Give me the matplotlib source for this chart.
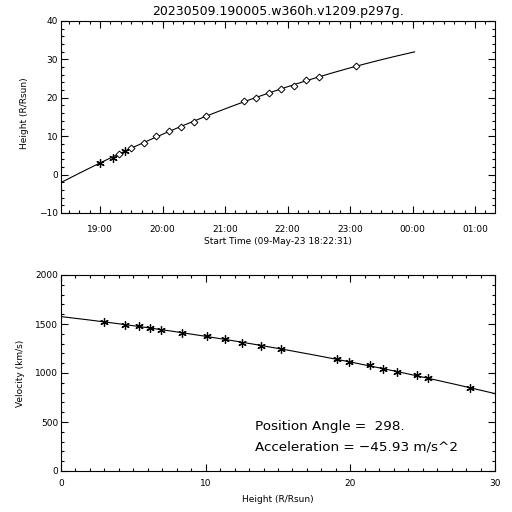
import numpy as np
import matplotlib
matplotlib.use("Agg")
import matplotlib.pyplot as plt
from matplotlib.ticker import FixedLocator, MultipleLocator, FuncFormatter

plt.rcParams['font.family'] = ['DejaVu Sans']

title = "20230509.190005.w360h.v1209.p297g."
start_time = "18:22:31"
start_label = "Start Time (09-May-23 18:22:31)"

# C2 (asterisks) and C3 (diamonds) measurements
c2_times = ['19:00', '19:12', '19:24']
c2_heights = [2.95, 4.45, 6.16]
c3_times = ['19:18', '19:30', '19:42', '19:54', '20:06', '20:18', '20:30', '20:42',
            '21:18', '21:30', '21:42', '21:54', '22:06', '22:18', '22:30', '23:06']
c3_heights = [5.42, 6.88, 8.35, 10.06, 11.35, 12.5, 13.8, 15.2,
              19.06, 19.94, 21.35, 22.27, 23.2, 24.6, 25.4, 28.3]

# velocity vs height
vel_heights = [2.95, 4.45, 5.42, 6.16, 6.88, 8.35, 10.06, 11.35, 12.5, 13.8, 15.2,
               19.06, 19.94, 21.35, 22.27, 23.2, 24.6, 25.4, 28.3]
velocities = [1520, 1494, 1480, 1460, 1440, 1408, 1378, 1347, 1310, 1276, 1245,
              1143, 1112, 1078, 1041, 1010, 976, 952, 844]

fit_end = '00:02'
hour_labels = ['19:00', '20:00', '21:00', '22:00', '23:00', '00:00', '01:00']
position_angle = "298."
acceleration = "-45.93"


def to_sec(s):
    parts = [int(p) for p in s.split(':')]
    h, m = parts[0], parts[1]
    sec = parts[2] if len(parts) > 2 else 0
    return h * 3600 + m * 60 + sec


t0 = to_sec(start_time)


def rel(s):
    t = to_sec(s) - t0
    if t < 0:
        t += 86400
    return t


c2_t = np.array([rel(s) for s in c2_times])
c3_t = np.array([rel(s) for s in c3_times])

all_t = np.concatenate([c2_t, c3_t])
all_h = np.concatenate([c2_heights, c3_heights])
coef = np.polyfit(all_t, all_h, 2)
tf = np.linspace(0, rel(fit_end), 200)
hf = np.polyval(coef, tf)

vcoef = np.polyfit(vel_heights, velocities, 2)
hv = np.linspace(0, 30, 200)
vv = np.polyval(vcoef, hv)

fig = plt.figure(figsize=(5.12, 5.12), dpi=100)
ax1 = fig.add_axes([61/512, 1-213/512, 434/512, 192/512])
ax2 = fig.add_axes([61/512, 1-471/512, 434/512, 196/512])

fs = 6.5
for ax in (ax1, ax2):
    ax.tick_params(which='both', direction='in', top=True, right=True,
                   width=0.8, labelsize=fs)
    ax.tick_params(which='major', length=5)
    ax.tick_params(which='minor', length=2.5)
    for sp in ax.spines.values():
        sp.set_linewidth(0.8)

# top panel
ax1.plot(tf, hf, color='black', lw=0.8)
ax1.plot(c2_t, c2_heights, linestyle='none', marker=(6, 2, 0), markersize=6,
         color='black', markeredgewidth=0.9)
ax1.plot(c3_t, c3_heights, linestyle='none', marker='D', markersize=3.5,
         markerfacecolor='white', markeredgecolor='black', markeredgewidth=0.7)
ax1.set_xlim(0, 25000)
ax1.set_ylim(-10, 40)
major_t = [rel(s) for s in hour_labels]
ax1.xaxis.set_major_locator(FixedLocator(major_t))
ax1.set_xticklabels(hour_labels)
minor_t = np.arange(major_t[0] - 3600, 25000, 600)
ax1.xaxis.set_minor_locator(FixedLocator(minor_t))
ax1.yaxis.set_major_locator(MultipleLocator(10))
ax1.yaxis.set_minor_locator(MultipleLocator(2))
ax1.yaxis.set_major_formatter(FuncFormatter(lambda v, p: f"{int(v)}".replace('-', '\u2212')))
ax1.tick_params(axis='x', pad=9)
ax1.tick_params(axis='y', pad=2)
ax1.set_xlabel(start_label, fontsize=fs)
ax1.xaxis.set_label_coords(0.5, -0.146)
ax1.xaxis.label.set_va('center')
ax1.set_ylabel("Height (R/Rsun)", fontsize=fs)
ax1.yaxis.set_label_coords(-0.083, 0.52)
ax1.yaxis.label.set_va('center')
ax1.set_title(title, fontsize=9, pad=4)

# bottom panel
ax2.plot(hv, vv, color='black', lw=0.8)
ax2.plot(vel_heights, velocities, linestyle='none', marker=(6, 2, 0), markersize=6,
         color='black', markeredgewidth=0.9)
ax2.set_xlim(0, 30)
ax2.set_ylim(0, 2000)
ax2.xaxis.set_major_locator(MultipleLocator(10))
ax2.xaxis.set_minor_locator(MultipleLocator(1))
ax2.yaxis.set_major_locator(MultipleLocator(500))
ax2.yaxis.set_minor_locator(MultipleLocator(100))
ax2.tick_params(axis='x', pad=6)
ax2.tick_params(axis='y', pad=2)
ax2.set_xlabel("Height (R/Rsun)", fontsize=fs)
ax2.xaxis.set_label_coords(0.5, -0.143)
ax2.xaxis.label.set_va('center')
ax2.set_ylabel("Velocity (km/s)", fontsize=fs)
ax2.yaxis.set_label_coords(-0.094, 0.5)
ax2.yaxis.label.set_va('center')

ax2.text(0.447, 0.209, f"Position Angle =  {position_angle}", transform=ax2.transAxes,
         fontsize=9.7, va='baseline', ha='left')
ax2.text(0.447, 0.107, f"Acceleration = {acceleration.replace('-', chr(0x2212))} m/s^2",
         transform=ax2.transAxes, fontsize=9.7, va='baseline', ha='left')

fig.savefig("out.png", dpi=100, facecolor='white')
